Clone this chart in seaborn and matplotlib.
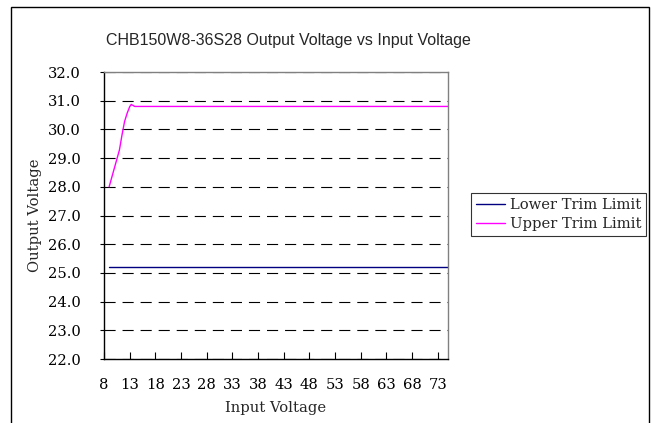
import matplotlib
matplotlib.use("Agg")
import matplotlib.pyplot as plt
import seaborn as sns
import pandas as pd
from matplotlib.patches import Rectangle

# ---- data ----
title = "CHB150W8-36S28 Output Voltage vs Input Voltage"
lower_x = [9, 75]
lower_y = [25.2, 25.2]
upper_x = [9, 10, 11, 11.5, 12, 12.5, 13, 13.3, 14, 75]
upper_y = [28.0, 28.64, 29.28, 29.8, 30.27, 30.56, 30.79, 30.87, 30.8, 30.8]
series_names = ["Lower Trim Limit", "Upper Trim Limit"]
x_ticks = [8, 13, 18, 23, 28, 33, 38, 43, 48, 53, 58, 63, 68, 73]
y_ticks = [22.0, 23.0, 24.0, 25.0, 26.0, 27.0, 28.0, 29.0, 30.0, 31.0, 32.0]

df = pd.concat([
    pd.DataFrame({"Input Voltage": lower_x, "Output Voltage": lower_y, "series": series_names[0]}),
    pd.DataFrame({"Input Voltage": upper_x, "Output Voltage": upper_y, "series": series_names[1]}),
])

sns.set_style("white")
plt.rcParams["font.family"] = ["DejaVu Serif"]
plt.rcParams["lines.scale_dashes"] = False

FS = 10.6
W, H = 651, 423
fig = plt.figure(figsize=(W / 100, H / 100), dpi=100)
ax = fig.add_axes([104 / W, 1 - 359 / H, (448 - 104) / W, (359 - 72) / H])

sns.lineplot(data=df, x="Input Voltage", y="Output Voltage", hue="series",
             palette={series_names[0]: "#000080", series_names[1]: "#FF00FF"},
             linewidth=1.0, ax=ax, estimator=None, sort=False)

ax.set_xlim(8, 75)
ax.set_ylim(22, 32)
ax.set_xticks(x_ticks)
ax.set_xticklabels([str(v) for v in x_ticks])
ax.set_yticks(y_ticks)
ax.set_yticklabels([f"{v:.1f}" for v in y_ticks])

ax.tick_params(axis="x", direction="in", length=5, width=0.8, colors="black",
               labelsize=FS, pad=14, bottom=True)
ax.tick_params(axis="y", direction="out", length=3, width=0.8, colors="black",
               labelsize=FS, pad=14, left=True)

ax.grid(axis="y", color="black", linestyle=(0, (8, 5)), linewidth=0.8)
ax.grid(axis="x", visible=False)

for s in ["left", "bottom"]:
    ax.spines[s].set_color("black")
    ax.spines[s].set_linewidth(1.0)
for s in ["top", "right"]:
    ax.spines[s].set_visible(True)
    ax.spines[s].set_color("#808080")
    ax.spines[s].set_linewidth(1.0)

ax.set_xlabel("Input Voltage", fontsize=FS, labelpad=6)
ax.set_ylabel("Output Voltage", fontsize=FS, labelpad=4)

leg = ax.legend(loc="center left", bbox_to_anchor=(470.5 / W, 1 - 214.5 / H),
                bbox_transform=fig.transFigure, frameon=True, fancybox=False,
                fontsize=FS, handlelength=2.0, handletextpad=0.3,
                borderpad=0.35, labelspacing=0.35, borderaxespad=0)
leg.get_frame().set_edgecolor("black")
leg.get_frame().set_linewidth(0.8)
leg.set_title(None)

fig.text(288 / W, 1 - 40 / H, title, ha="center", va="center", fontsize=11.5,
         family=["Liberation Sans", "DejaVu Sans"])

fig.patches.append(Rectangle((11 / W, -0.05), (649 - 11) / W, (1 - 7 / H) + 0.05,
                             transform=fig.transFigure, fill=False,
                             edgecolor="black", linewidth=1.0))

fig.savefig("out.png", dpi=100)
